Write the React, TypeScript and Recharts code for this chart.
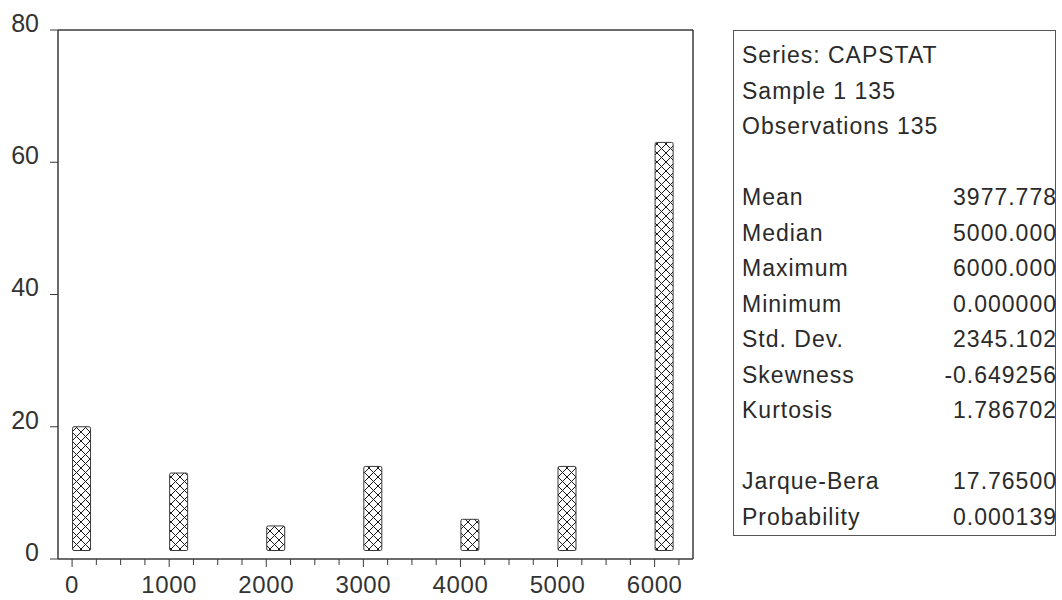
import * as React from "react"
import { Bar, BarChart, ReferenceLine, XAxis, YAxis } from "recharts"

const binStarts = [0, 1000, 2000, 3000, 4000, 5000, 6000]
const counts = [20, 13, 5, 14, 6, 14, 63]

const yTicks = [0, 20, 40, 60, 80]
const xTicks = [
  0, 250, 500, 750, 1000, 1250, 1500, 1750, 2000, 2250, 2500, 2750, 3000, 3250, 3500, 3750,
  4000, 4250, 4500, 4750, 5000, 5250, 5500, 5750, 6000, 6250,
]
const xLabelled = [0, 1000, 2000, 3000, 4000, 5000, 6000]

const headerLines = ["Series: CAPSTAT", "Sample 1 135", "Observations 135"]
const statNames = ["Mean", "Median", "Maximum", "Minimum", "Std. Dev.", "Skewness", "Kurtosis", "", "Jarque-Bera", "Probability"]
const statValues = ["3977.778", "5000.000", "6000.000", "0.000000", "2345.102", "-0.649256", "1.786702", "", "17.76500", "0.000139"]

const X_DOMAIN: [number, number] = [-145, 6395]
const FONT = "'Liberation Sans', Arial, sans-serif"
const INK = "#3a3a3a"

const data = binStarts.map((bin, i) => ({ bin, count: counts[i] }))

function HatchBar(props: any) {
  const { x, y, width, height } = props
  const left = x + width / 2
  const h = Math.max(height - 8.5, 0)
  return (
    <rect
      x={left}
      y={y}
      width={18}
      height={h}
      rx={1.5}
      fill="url(#xhatch)"
      stroke={INK}
      strokeWidth={1}
    />
  )
}

function XTick(props: any) {
  const { x, y, payload } = props
  const major = xLabelled.includes(payload.value)
  return (
    <g>
      <line x1={x} x2={x} y1={y} y2={y + (major ? 8 : 6)} stroke={INK} strokeWidth={1} />
      {major && (
        <text x={x} y={y + 25} dy="0.355em" textAnchor="middle" fontSize={24} letterSpacing={0.6} fill="#333" fontFamily={FONT}>
          {payload.value}
        </text>
      )}
    </g>
  )
}

function YTick(props: any) {
  const { x, y, payload } = props
  return (
    <text x={x} y={y - 7} dy="0.355em" textAnchor="end" fontSize={25} fill="#333" fontFamily={FONT}>
      {payload.value}
    </text>
  )
}

function StatsBox() {
  const row: React.CSSProperties = { height: 35.5, lineHeight: "35.5px", whiteSpace: "nowrap" }
  return (
    <div
      style={{
        position: "absolute",
        left: 733,
        top: 30,
        width: 323,
        height: 506,
        border: "1px solid #555",
        boxSizing: "border-box",
        padding: "7px 0 0 8px",
        fontFamily: FONT,
        fontSize: 23,
        letterSpacing: 1,
        color: "#2a2a2a",
      }}
    >
      {headerLines.map((line) => (
        <div key={line} style={row}>{line}</div>
      ))}
      <div style={row} />
      {statNames.map((name, i) => (
        <div key={i} style={{ ...row, display: "flex", justifyContent: "space-between", marginRight: -2 }}>
          <span>{name}</span>
          <span>{statValues[i]}</span>
        </div>
      ))}
    </div>
  )
}

export default function App() {
  return (
    <div style={{ position: "relative", width: 1062, height: 600, background: "#fff" }}>
      <style>{"body{margin:0}"}</style>
      <BarChart
        width={1062}
        height={600}
        data={data}
        margin={{ top: 30, right: 369, bottom: 0, left: 0 }}
        barSize={18}
      >
        <defs>
          <pattern id="xhatch" width="9" height="9" patternUnits="userSpaceOnUse">
            <rect width="9" height="9" fill="#fff" />
            <path d="M0,0 L9,9 M9,0 L0,9" stroke="#1a1a1a" strokeWidth={1} />
          </pattern>
        </defs>
        <XAxis
          dataKey="bin"
          type="number"
          domain={X_DOMAIN}
          ticks={xTicks}
          interval={0}
          height={41}
          tickSize={0}
          tickMargin={0}
          tickLine={false}
          axisLine={{ stroke: INK, strokeWidth: 1.5 }}
          tick={<XTick />}
          allowDataOverflow
        />
        <YAxis
          type="number"
          domain={[0, 80]}
          ticks={yTicks}
          interval={0}
          width={58}
          tickSize={8}
          tickMargin={11}
          tickLine={{ stroke: INK }}
          axisLine={{ stroke: INK, strokeWidth: 1.5 }}
          tick={<YTick />}
        />
        <ReferenceLine y={80} stroke={INK} strokeWidth={1.5} />
        <ReferenceLine x={X_DOMAIN[1]} stroke={INK} strokeWidth={1.5} />
        <Bar dataKey="count" shape={<HatchBar />} isAnimationActive={false} />
      </BarChart>
      <StatsBox />
    </div>
  )
}
